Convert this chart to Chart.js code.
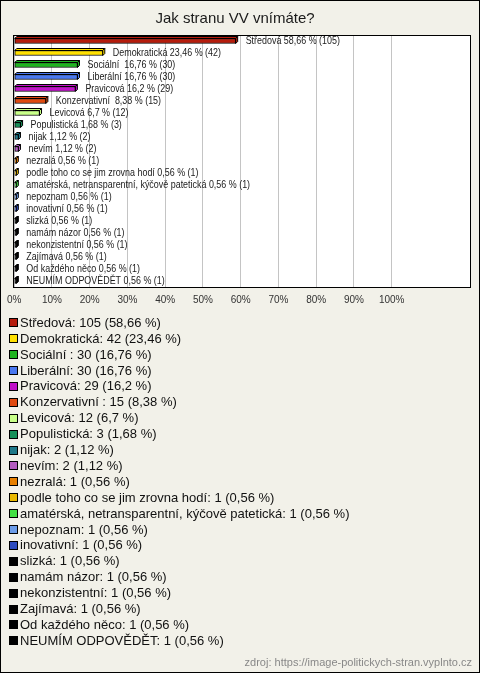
<!DOCTYPE html>
<html><head><meta charset="utf-8">
<script src="https://cdn.jsdelivr.net/npm/chart.js@4/dist/chart.umd.min.js"></script>
<style>
html,body{margin:0;padding:0;background:#f2f1e9;}
canvas{display:block}
</style></head><body>
<canvas id="c" width="480" height="673"></canvas>
<script>
const titleText = "Jak stranu VV vnímáte?";
const sourceText = "zdroj: https://image-politickych-stran.vyplnto.cz";
const categories = ["Středová","Demokratická","Sociální ","Liberální","Pravicová","Konzervativní ","Levicová","Populistická","nijak","nevím","nezralá","podle toho co se jim zrovna hodí","amatérská, netransparentní, kýčově patetická","nepoznam","inovativní","slizká","namám názor","nekonzistentní","Zajímavá","Od každého něco","NEUMÍM ODPOVĚDĚT"];
const counts = [105,42,30,30,29,15,12,3,2,2,1,1,1,1,1,1,1,1,1,1,1];
const percents = [58.66,23.46,16.76,16.76,16.2,8.38,6.7,1.68,1.12,1.12,0.56,0.56,0.56,0.56,0.56,0.56,0.56,0.56,0.56,0.56,0.56];
const percentLabels = ["58,66","23,46","16,76","16,76","16,2","8,38","6,7","1,68","1,12","1,12","0,56","0,56","0,56","0,56","0,56","0,56","0,56","0,56","0,56","0,56","0,56"];
const colors = ["#b51c0c","#ffe000","#1fb41f","#4a78f0","#c010c8","#e04a10","#c8ff88","#149058","#1e7888","#b45cc0","#e88000","#e8b800","#44e044","#6c9ce8","#2e4cc0","#000000","#000000","#000000","#000000","#000000","#000000"];
const xTickValues = [0,10,20,30,40,50,60,70,80,90,100];

const FONT = "Arial, 'Liberation Sans', sans-serif";

const decor = {
  id: 'decor',
  beforeDraw(chart) {
    const ctx = chart.ctx, a = chart.chartArea;
    ctx.save();
    ctx.fillStyle = '#f2f1e9';
    ctx.fillRect(0, 0, chart.width, chart.height);
    ctx.fillStyle = '#ffffff';
    ctx.fillRect(a.left, a.top, a.right - a.left, a.bottom - a.top);
    ctx.restore();
  },
  beforeDatasetsDraw(chart) {
    const ctx = chart.ctx;
    const meta = chart.getDatasetMeta(0);
    const d = 2;
    ctx.save();
    ctx.lineWidth = 1;
    ctx.strokeStyle = '#000';
    meta.data.forEach((bar, i) => {
      const p = bar.getProps(['x', 'y', 'base', 'height'], true);
      const top = p.y - p.height / 2, bottom = p.y + p.height / 2;
      ctx.fillStyle = colors[i];
      ctx.beginPath();
      ctx.moveTo(p.base, top); ctx.lineTo(p.x, top); ctx.lineTo(p.x + d, top - d); ctx.lineTo(p.base + d, top - d); ctx.closePath();
      ctx.fill(); ctx.stroke();
      ctx.beginPath();
      ctx.moveTo(p.x, top); ctx.lineTo(p.x + d, top - d); ctx.lineTo(p.x + d, bottom - d); ctx.lineTo(p.x, bottom); ctx.closePath();
      ctx.fill(); ctx.stroke();
    });
    ctx.restore();
  },
  afterDraw(chart) {
    const ctx = chart.ctx, a = chart.chartArea;
    ctx.save();
    ctx.strokeStyle = '#000'; ctx.lineWidth = 1;
    ctx.strokeRect(Math.round(a.left) - 0.5, Math.round(a.top) + 0.5, Math.round(a.right - a.left), Math.round(a.bottom - a.top));
    ctx.fillStyle = '#1a1a1a';
    ctx.font = "15px " + FONT;
    ctx.textAlign = 'center'; ctx.textBaseline = 'middle';
    ctx.fillText(titleText, 235, 19);
    const meta = chart.getDatasetMeta(0);
    ctx.font = "10.5px " + FONT;
    ctx.textAlign = 'left';
    ctx.fillStyle = '#1a1a1a';
    meta.data.forEach((bar, i) => {
      const p = bar.getProps(['x', 'y'], true);
      ctx.save();
      ctx.translate(p.x + 10, p.y);
      ctx.scale(0.85, 1);
      ctx.fillText(categories[i] + ' ' + percentLabels[i] + ' % (' + counts[i] + ')', 0, 0);
      ctx.restore();
    });
    ctx.font = "13px " + FONT;
    categories.forEach((c, i) => {
      const cy = 323.3 + i * 15.9;
      ctx.fillStyle = colors[i];
      ctx.fillRect(10, Math.round(cy) - 4, 7, 7);
      ctx.strokeStyle = '#000';
      ctx.strokeRect(9.5, Math.round(cy) - 4.5, 8, 8);
      ctx.fillStyle = '#111';
      ctx.fillText(c + ': ' + counts[i] + ' (' + percentLabels[i] + ' %)', 20, cy);
    });
    ctx.font = "11px " + FONT;
    ctx.fillStyle = '#888';
    ctx.textAlign = 'right';
    ctx.fillText(sourceText, 472, 663);
    ctx.strokeStyle = '#000';
    ctx.strokeRect(0.5, 0.5, chart.width - 1, chart.height - 1);
    ctx.restore();
  }
};

new Chart(document.getElementById('c'), {
  type: 'bar',
  data: {
    labels: categories,
    datasets: [{
      data: percents,
      backgroundColor: colors,
      borderColor: '#000',
      borderWidth: 1,
      borderSkipped: false,
      barThickness: 5
    }]
  },
  options: {
    indexAxis: 'y',
    responsive: false,
    animation: false,
    devicePixelRatio: 1,
    layout: { padding: { left: 11, right: 9, top: 35, bottom: 360 } },
    plugins: { legend: { display: false }, title: { display: false }, tooltip: { enabled: false } },
    scales: {
      x: {
        min: 0, max: 121,
        afterBuildTicks: axis => { axis.ticks = xTickValues.map(v => ({ value: v })); },
        grid: { color: '#c4c4c4', drawTicks: false },
        border: { display: false },
        ticks: {
          padding: 7,
          color: '#333',
          font: { size: 10, family: FONT },
          maxRotation: 0,
          autoSkip: false,
          callback: v => v + '%'
        }
      },
      y: { display: false }
    }
  },
  plugins: [decor]
});
</script>
</body></html>
